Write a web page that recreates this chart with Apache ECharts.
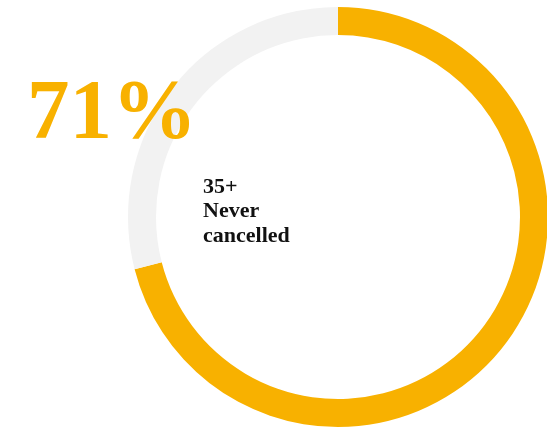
<!DOCTYPE html>
<html>
<head>
<meta charset="utf-8">
<script src="https://cdn.jsdelivr.net/npm/echarts@6/dist/echarts.min.js"></script>
<style>
  html, body { margin: 0; padding: 0; background: #fff; }
  #chart { width: 547px; height: 428px; }
</style>
</head>
<body>
<div id="chart"></div>
<script>
// Share of 35+ respondents who never cancelled
const categories = ['Never cancelled', 'Other'];
const shareValues = [71, 29];
const headline = '71%';
const groupLabel = ['35+', 'Never', 'cancelled'];

const colors = ['#F8B100', '#F2F2F2'];

const chart = echarts.init(document.getElementById('chart'), null, { renderer: 'canvas' });

chart.setOption({
  animation: false,
  backgroundColor: '#ffffff',
  series: [{
    type: 'pie',
    center: [338, 217],
    radius: [182, 210],
    startAngle: 90,
    clockwise: true,
    silent: true,
    z: 1,
    label: { show: false },
    labelLine: { show: false },
    data: categories.map((name, i) => ({
      name,
      value: shareValues[i],
      itemStyle: { color: colors[i] }
    }))
  }],
  graphic: [
    {
      type: 'text',
      left: 27,
      top: 74,
      z: 100,
      style: {
        text: headline,
        font: 'bold 85px "Liberation Serif", "Times New Roman", serif',
        fill: '#F8B100'
      }
    },
    {
      type: 'text',
      left: 203,
      top: 175,
      z: 100,
      style: {
        text: groupLabel.join('\n'),
        font: 'bold 22px "Liberation Serif", "Times New Roman", serif',
        lineHeight: 24.5,
        fill: '#111111'
      }
    }
  ]
});
</script>
</body>
</html>
